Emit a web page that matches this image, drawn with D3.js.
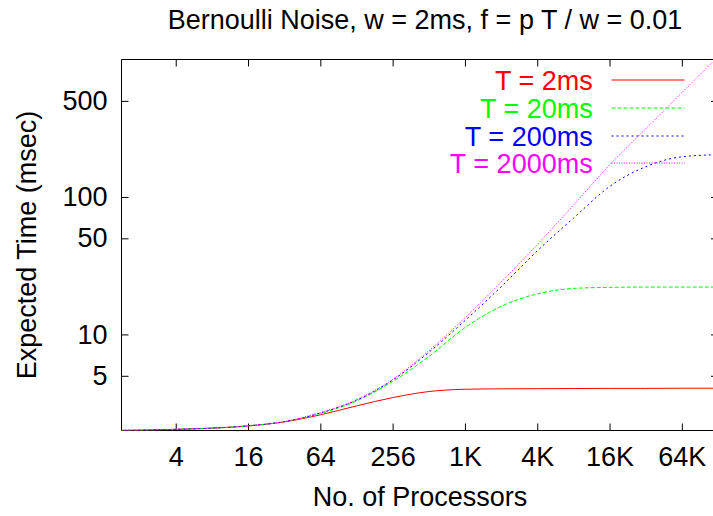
<!DOCTYPE html>
<html>
<head>
<meta charset="utf-8">
<script src="https://cdn.jsdelivr.net/npm/d3@7"></script>
<style>
  html, body { margin: 0; padding: 0; background: #fff; }
  svg { display: block; }
  text { font-family: "Liberation Sans", Arial, Helvetica, sans-serif; }
</style>
</head>
<body>
<svg id="chart" width="713" height="516"></svg>
<script>
// ---- data ----
const processors = [1, 2, 4, 8, 16, 32, 64, 128, 256, 512, 1024, 2048, 4096, 8192, 16384, 32768, 65536, 131072];
const t2ms    = [2.00, 2.01, 2.04, 2.08, 2.16, 2.31, 2.60, 3.02, 3.47, 3.84, 3.99, 4.02, 4.03, 4.04, 4.05, 4.05, 4.06, 4.06];
const t20ms   = [2.00, 2.01, 2.04, 2.08, 2.16, 2.32, 2.66, 3.28, 4.55, 6.9, 11.2, 16.0, 19.7, 21.6, 22.0, 22.1, 22.1, 22.1];
const t200ms  = [2.00, 2.01, 2.04, 2.08, 2.16, 2.32, 2.68, 3.32, 4.65, 7.4, 12.6, 22.2, 40.5, 70, 119, 166, 196, 203];
const t2000ms = [2.00, 2.01, 2.04, 2.08, 2.16, 2.32, 2.70, 3.34, 4.7, 7.6, 13.2, 24, 45, 87, 171, 313, 573, 1049];

const seriesNames = ["T = 2ms", "T = 20ms", "T = 200ms", "T = 2000ms"];
const seriesValues = [t2ms, t20ms, t200ms, t2000ms];

const xTickValues = [4, 16, 64, 256, 1024, 4096, 16384, 65536];
const xTickLabels = ["4", "16", "64", "256", "1K", "4K", "16K", "64K"];
const yTickValues = [5, 10, 50, 100, 500];
const yTickLabels = ["5", "10", "50", "100", "500"];

const titleText = "Bernoulli Noise, w = 2ms, f = p T / w = 0.01";
const xLabel = "No. of Processors";
const yLabel = "Expected Time (msec)";

// ---- styling ----
const colors = ["#ff0000", "#00ff00", "#0000ff", "#ff00ff"];
const dashes = [null, "4,2", "2,3", "1,1.5"];
const FONT = 27;

const pL = 121.5, pR = 718, pT = 59.5, pB = 430.5;

const svg = d3.select("#chart");
svg.append("rect").attr("width", 713).attr("height", 516).attr("fill", "#fff");

const x = d3.scaleLog().base(2).domain([Math.SQRT2, 131072]).range([pL, pR]);
const y = d3.scaleLog().domain([2, 1000]).range([pB, pT]);

// clip
svg.append("clipPath").attr("id", "clip")
  .append("rect").attr("x", pL).attr("y", pT).attr("width", pR - pL).attr("height", pB - pT);

// axes with inward ticks
const gx = svg.append("g").attr("transform", `translate(0,${pB})`)
  .call(d3.axisBottom(x).tickValues(xTickValues).tickFormat((d, i) => xTickLabels[i])
    .tickSizeInner(-7).tickSizeOuter(0).tickPadding(16));
const gxTop = svg.append("g").attr("transform", `translate(0,${pT})`)
  .call(d3.axisTop(x).tickValues(xTickValues).tickFormat("")
    .tickSizeInner(-7).tickSizeOuter(0));
const gy = svg.append("g").attr("transform", `translate(${pL},0)`)
  .call(d3.axisLeft(y).tickValues(yTickValues).tickFormat((d, i) => yTickLabels[i])
    .tickSizeInner(-7).tickSizeOuter(0).tickPadding(14));
const gyRight = svg.append("g").attr("transform", `translate(${pR},0)`)
  .call(d3.axisRight(y).tickValues(yTickValues).tickFormat("")
    .tickSizeInner(-7).tickSizeOuter(0));

[gx, gxTop, gy, gyRight].forEach(g => {
  g.select(".domain").remove();
  g.selectAll(".tick line").attr("stroke", "#000").attr("stroke-width", 1);
  g.selectAll(".tick text").attr("fill", "#000").style("font-size", FONT + "px")
    .style("font-family", '"Liberation Sans", Arial, sans-serif');
});

// frame
svg.append("path")
  .attr("d", `M${pR},${pT}H${pL}V${pB}H${pR}`)
  .attr("fill", "none").attr("stroke", "#000").attr("stroke-width", 1);

// curves
const line = d3.line()
  .x((d, i) => x(processors[i]))
  .y(d => y(d))
  .curve(d3.curveMonotoneX);

const plot = svg.append("g").attr("clip-path", "url(#clip)");
seriesValues.forEach((vals, si) => {
  plot.append("path")
    .datum(vals)
    .attr("d", line)
    .attr("fill", "none")
    .attr("stroke", colors[si])
    .attr("stroke-width", 1)
    .attr("stroke-dasharray", dashes[si]);
});

// legend
const legendTextX = 592.7, legendLineX1 = 611.5, legendLineX2 = 684.5;
const legendY0 = 80, legendStep = 27.8;
seriesNames.forEach((name, si) => {
  const ly = Math.round(legendY0 + si * legendStep);
  svg.append("text")
    .attr("x", legendTextX).attr("y", ly)
    .attr("dy", "0.36em")
    .attr("text-anchor", "end")
    .attr("fill", colors[si])
    .style("font-size", FONT + "px")
    .text(name);
  svg.append("line")
    .attr("x1", legendLineX1).attr("x2", legendLineX2)
    .attr("y1", ly).attr("y2", ly)
    .attr("stroke", colors[si]).attr("stroke-width", 1.2)
    .attr("stroke-dasharray", dashes[si]);
});

// title & axis labels
svg.append("text").attr("x", 425).attr("y", 29)
  .attr("text-anchor", "middle").style("font-size", FONT + "px").text(titleText);
svg.append("text").attr("x", 420).attr("y", 506)
  .attr("text-anchor", "middle").style("font-size", FONT + "px").text(xLabel);
svg.append("text")
  .attr("transform", `translate(36,${(pT + pB) / 2}) rotate(-90)`)
  .attr("text-anchor", "middle").style("font-size", FONT + "px").text(yLabel);
</script>
</body>
</html>
